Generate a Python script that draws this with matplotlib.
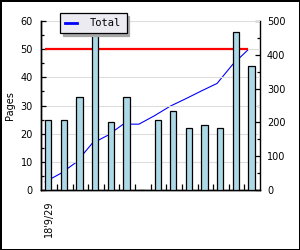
import matplotlib.pyplot as plt
from matplotlib.ticker import MultipleLocator

# Pages per day (bars, left axis) and running total (line, right axis)
pages = [25, 25, 33, 55, 24, 33, 0, 25, 28, 22, 23, 22, 56, 44]
total = [25, 50, 83, 138, 162, 195, 195, 220, 248, 270, 293, 315, 371, 415]
target = 50
first_label = "18'9/29"

slots = list(range(len(pages)))
bar_x = [i + 0.45 for i in slots]
line_x = [i + 0.25 for i in slots]

fig = plt.figure(figsize=(3, 2.5), dpi=100, facecolor="white",
                 edgecolor="black", linewidth=2)
ax = fig.add_axes([0.1377, 0.2388, 0.7290, 0.6784])
ax2 = ax.twinx()

# bars sit in front of the total line
ax.set_zorder(ax2.get_zorder() + 1)
ax.patch.set_visible(False)

total_line, = ax2.plot(line_x, total, color="blue", lw=0.8, label="Total")
ax.hlines(target, line_x[0], line_x[-1], color="red", lw=1.6, zorder=2)
ax.bar(bar_x, pages, width=0.4, color="#ADD8E6", edgecolor="black",
       linewidth=0.9, zorder=3)

# axis ranges
ax.set_xlim(0, len(pages))
ax.set_ylim(0, 60)
ax2.set_ylim(0, 500)

# left axis
ax.yaxis.set_major_locator(MultipleLocator(10))
ax.yaxis.set_minor_locator(MultipleLocator(5))
ax.tick_params(axis="y", which="major", direction="in", length=3.6,
               width=0.9, labelsize=7, pad=6)
ax.tick_params(axis="y", which="minor", direction="in", length=2.4, width=0.9)
ax.yaxis.grid(True, which="major", color="#DDDDDD", lw=0.8)
ax.set_axisbelow(True)
ax.set_ylabel("Pages", fontsize=7)
ax.yaxis.set_label_coords(-0.12, 0.5)

# right axis
ax2.yaxis.set_major_locator(MultipleLocator(100))
ax2.yaxis.set_minor_locator(MultipleLocator(50))
ax2.tick_params(axis="y", which="major", direction="in", length=3.6,
                width=0.9, labelsize=7, pad=5)
ax2.tick_params(axis="y", which="minor", direction="in", length=2.4, width=0.9)

# x axis: one date label, inward ticks between slots
ax.set_xticks([0.5], labels=[first_label], rotation=90, fontsize=7)
ax.set_xticks(slots[1:], minor=True)
ax.tick_params(axis="x", which="major", length=0, pad=7)
ax.tick_params(axis="x", which="minor", direction="in", length=4.3, width=0.9)

for a in (ax, ax2):
    a.spines["top"].set_visible(False)
    for s in ("left", "right", "bottom"):
        a.spines[s].set_linewidth(1.0)
ax.spines["right"].set_visible(False)

leg = ax.legend(handles=[total_line], loc="upper left",
                bbox_to_anchor=(0.2, 0.948), bbox_transform=fig.transFigure,
                fancybox=False, shadow={"color": "#A8A8A8", "alpha": 1},
                framealpha=1, facecolor="#EDEBF2", edgecolor="black",
                prop={"family": "DejaVu Sans Mono", "size": 7.5},
                handlelength=1.1, handletextpad=1.3, borderpad=0.5,
                borderaxespad=0)
leg.get_frame().set_linewidth(0.9)
leg.legend_handles[0].set_linewidth(2)
leg.set_zorder(10)

fig.savefig("out.png", dpi=100)
